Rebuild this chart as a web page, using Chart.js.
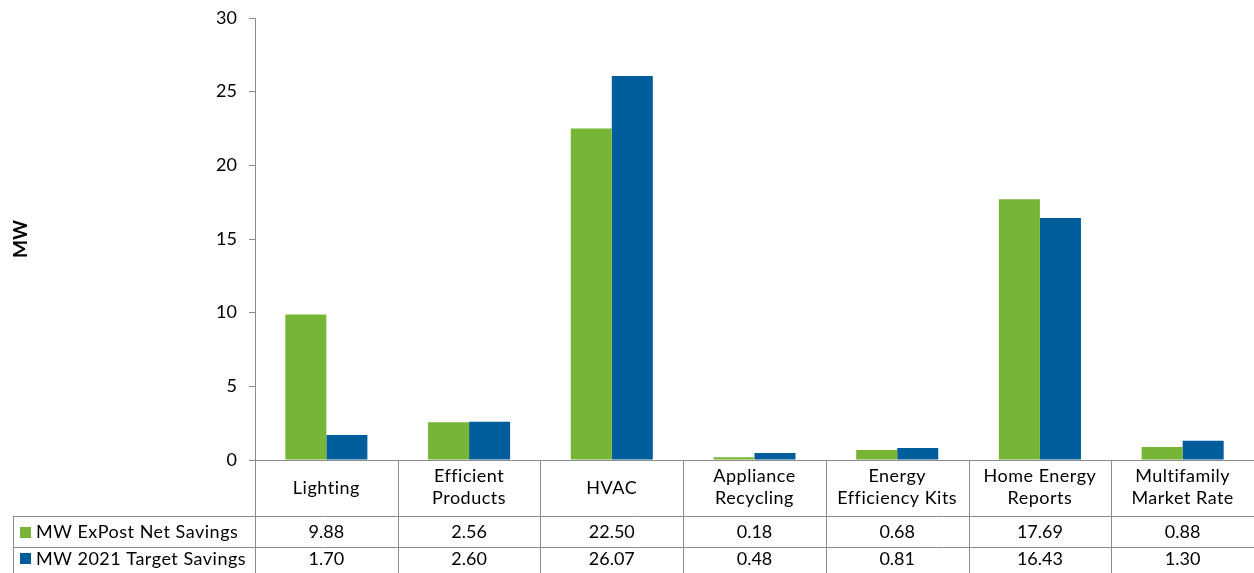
<!DOCTYPE html>
<html>
<head>
<meta charset="utf-8">
<title>MW Savings by Program</title>
<script src="https://cdn.jsdelivr.net/npm/chart.js@4/dist/chart.umd.min.js"></script>
<style>
  body { margin: 0; background: #fff; }
  #myChart { display: block; }
</style>
</head>
<body>
<canvas id="myChart" width="1254" height="573"></canvas>
<script>
const programs = [
  ["Lighting"],
  ["Efficient", "Products"],
  ["HVAC"],
  ["Appliance", "Recycling"],
  ["Energy", "Efficiency Kits"],
  ["Home Energy", "Reports"],
  ["Multifamily", "Market Rate"]
]
const expostNet = [9.88, 2.56, 22.50, 0.18, 0.68, 17.69, 0.88]
const target2021 = [1.70, 2.60, 26.07, 0.48, 0.81, 16.43, 1.30]
const seriesNames = ["MW ExPost Net Savings", "MW 2021 Target Savings"]
const yTicks = [0, 5, 10, 15, 20, 25, 30]

const green = '#76b536'
const blue = '#005d9c'
const lineColor = '#8c8c8c'
const fontName = 'Lato, "Open Sans", sans-serif'

// data table under the plot: category row + one row per series
const dataTable = {
  id: 'dataTable',
  afterDraw(chart) {
    const ctx = chart.ctx
    const area = chart.chartArea
    const x = chart.scales.x
    const n = programs.length
    const colW = (area.right - area.left) / n
    const top = area.bottom
    const row1 = top + 56
    const row2 = row1 + 31
    const bottom = chart.height + 5
    const tableLeft = 13

    ctx.save()
    ctx.strokeStyle = lineColor
    ctx.lineWidth = 1

    ctx.beginPath()
    ctx.moveTo(area.left - 6, top + 0.5)
    ctx.lineTo(area.right, top + 0.5)
    ctx.moveTo(tableLeft, row1 + 0.5)
    ctx.lineTo(area.right, row1 + 0.5)
    ctx.moveTo(tableLeft, row2 + 0.5)
    ctx.lineTo(area.right, row2 + 0.5)
    ctx.moveTo(tableLeft + 0.5, row1)
    ctx.lineTo(tableLeft + 0.5, bottom)
    for (let i = 0; i < n; i++) {
      const bx = Math.round(area.left + i * colW) + 0.5
      ctx.moveTo(bx, top)
      ctx.lineTo(bx, bottom)
    }
    ctx.stroke()

    ctx.fillStyle = '#000'
    ctx.font = '18px ' + fontName
    ctx.textAlign = 'center'
    ctx.textBaseline = 'middle'
    const val1Y = (row1 + row2) / 2 + 1
    const val2Y = row2 + 12
    programs.forEach((label, i) => {
      const cx = x.getPixelForValue(i)
      ctx.letterSpacing = '0.5px'
      if (label.length == 1) {
        ctx.fillText(label[0], cx, top + 28)
      } else {
        ctx.fillText(label[0], cx, top + 16)
        ctx.fillText(label[1], cx, top + 38)
      }
      ctx.letterSpacing = '0px'
      ctx.fillText(expostNet[i].toFixed(2), cx, val1Y)
      ctx.fillText(target2021[i].toFixed(2), cx, val2Y)
    })

    // legend keys in the first column
    const keys = [[green, val1Y], [blue, val2Y]]
    ctx.textAlign = 'left'
    ctx.letterSpacing = '0.5px'
    keys.forEach(([color, cy], i) => {
      ctx.fillStyle = color
      ctx.fillRect(20, Math.round(cy) - 6, 11, 11)
      ctx.fillStyle = '#000'
      ctx.fillText(seriesNames[i], 36, cy)
    })
    ctx.restore()
  }
}

const data = {
  labels: programs.map(p => p.join(' ')),
  datasets: [{
    label: seriesNames[0],
    backgroundColor: green,
    data: expostNet
  }, {
    label: seriesNames[1],
    backgroundColor: blue,
    data: target2021
  }]
}

const config = {
  type: 'bar',
  data: data,
  options: {
    responsive: false,
    animation: false,
    devicePixelRatio: 1,
    layout: { padding: { left: 0, top: 18, right: 0, bottom: 113 } },
    datasets: { bar: { categoryPercentage: 0.575, barPercentage: 1 } },
    plugins: {
      legend: { display: false },
      tooltip: { enabled: false }
    },
    scales: {
      x: { display: false },
      y: {
        min: 0,
        max: 30,
        afterFit(scale) {
          scale.width = 255
          scale.paddingTop = 0
          scale.paddingBottom = 0
        },
        afterBuildTicks(scale) { scale.ticks = yTicks.map(v => ({ value: v })) },
        border: { color: lineColor, width: 1 },
        grid: { drawOnChartArea: false, drawTicks: true, tickLength: 6, color: lineColor },
        ticks: { color: '#000', padding: 12, font: { family: fontName, size: 18 } },
        title: {
          display: true,
          text: 'MW',
          color: '#000',
          padding: { top: 9 },
          font: { family: fontName, size: 19, weight: 'bold' }
        }
      }
    }
  },
  plugins: [dataTable]
}

const myChart = new Chart(document.getElementById('myChart'), config)
</script>
</body>
</html>
